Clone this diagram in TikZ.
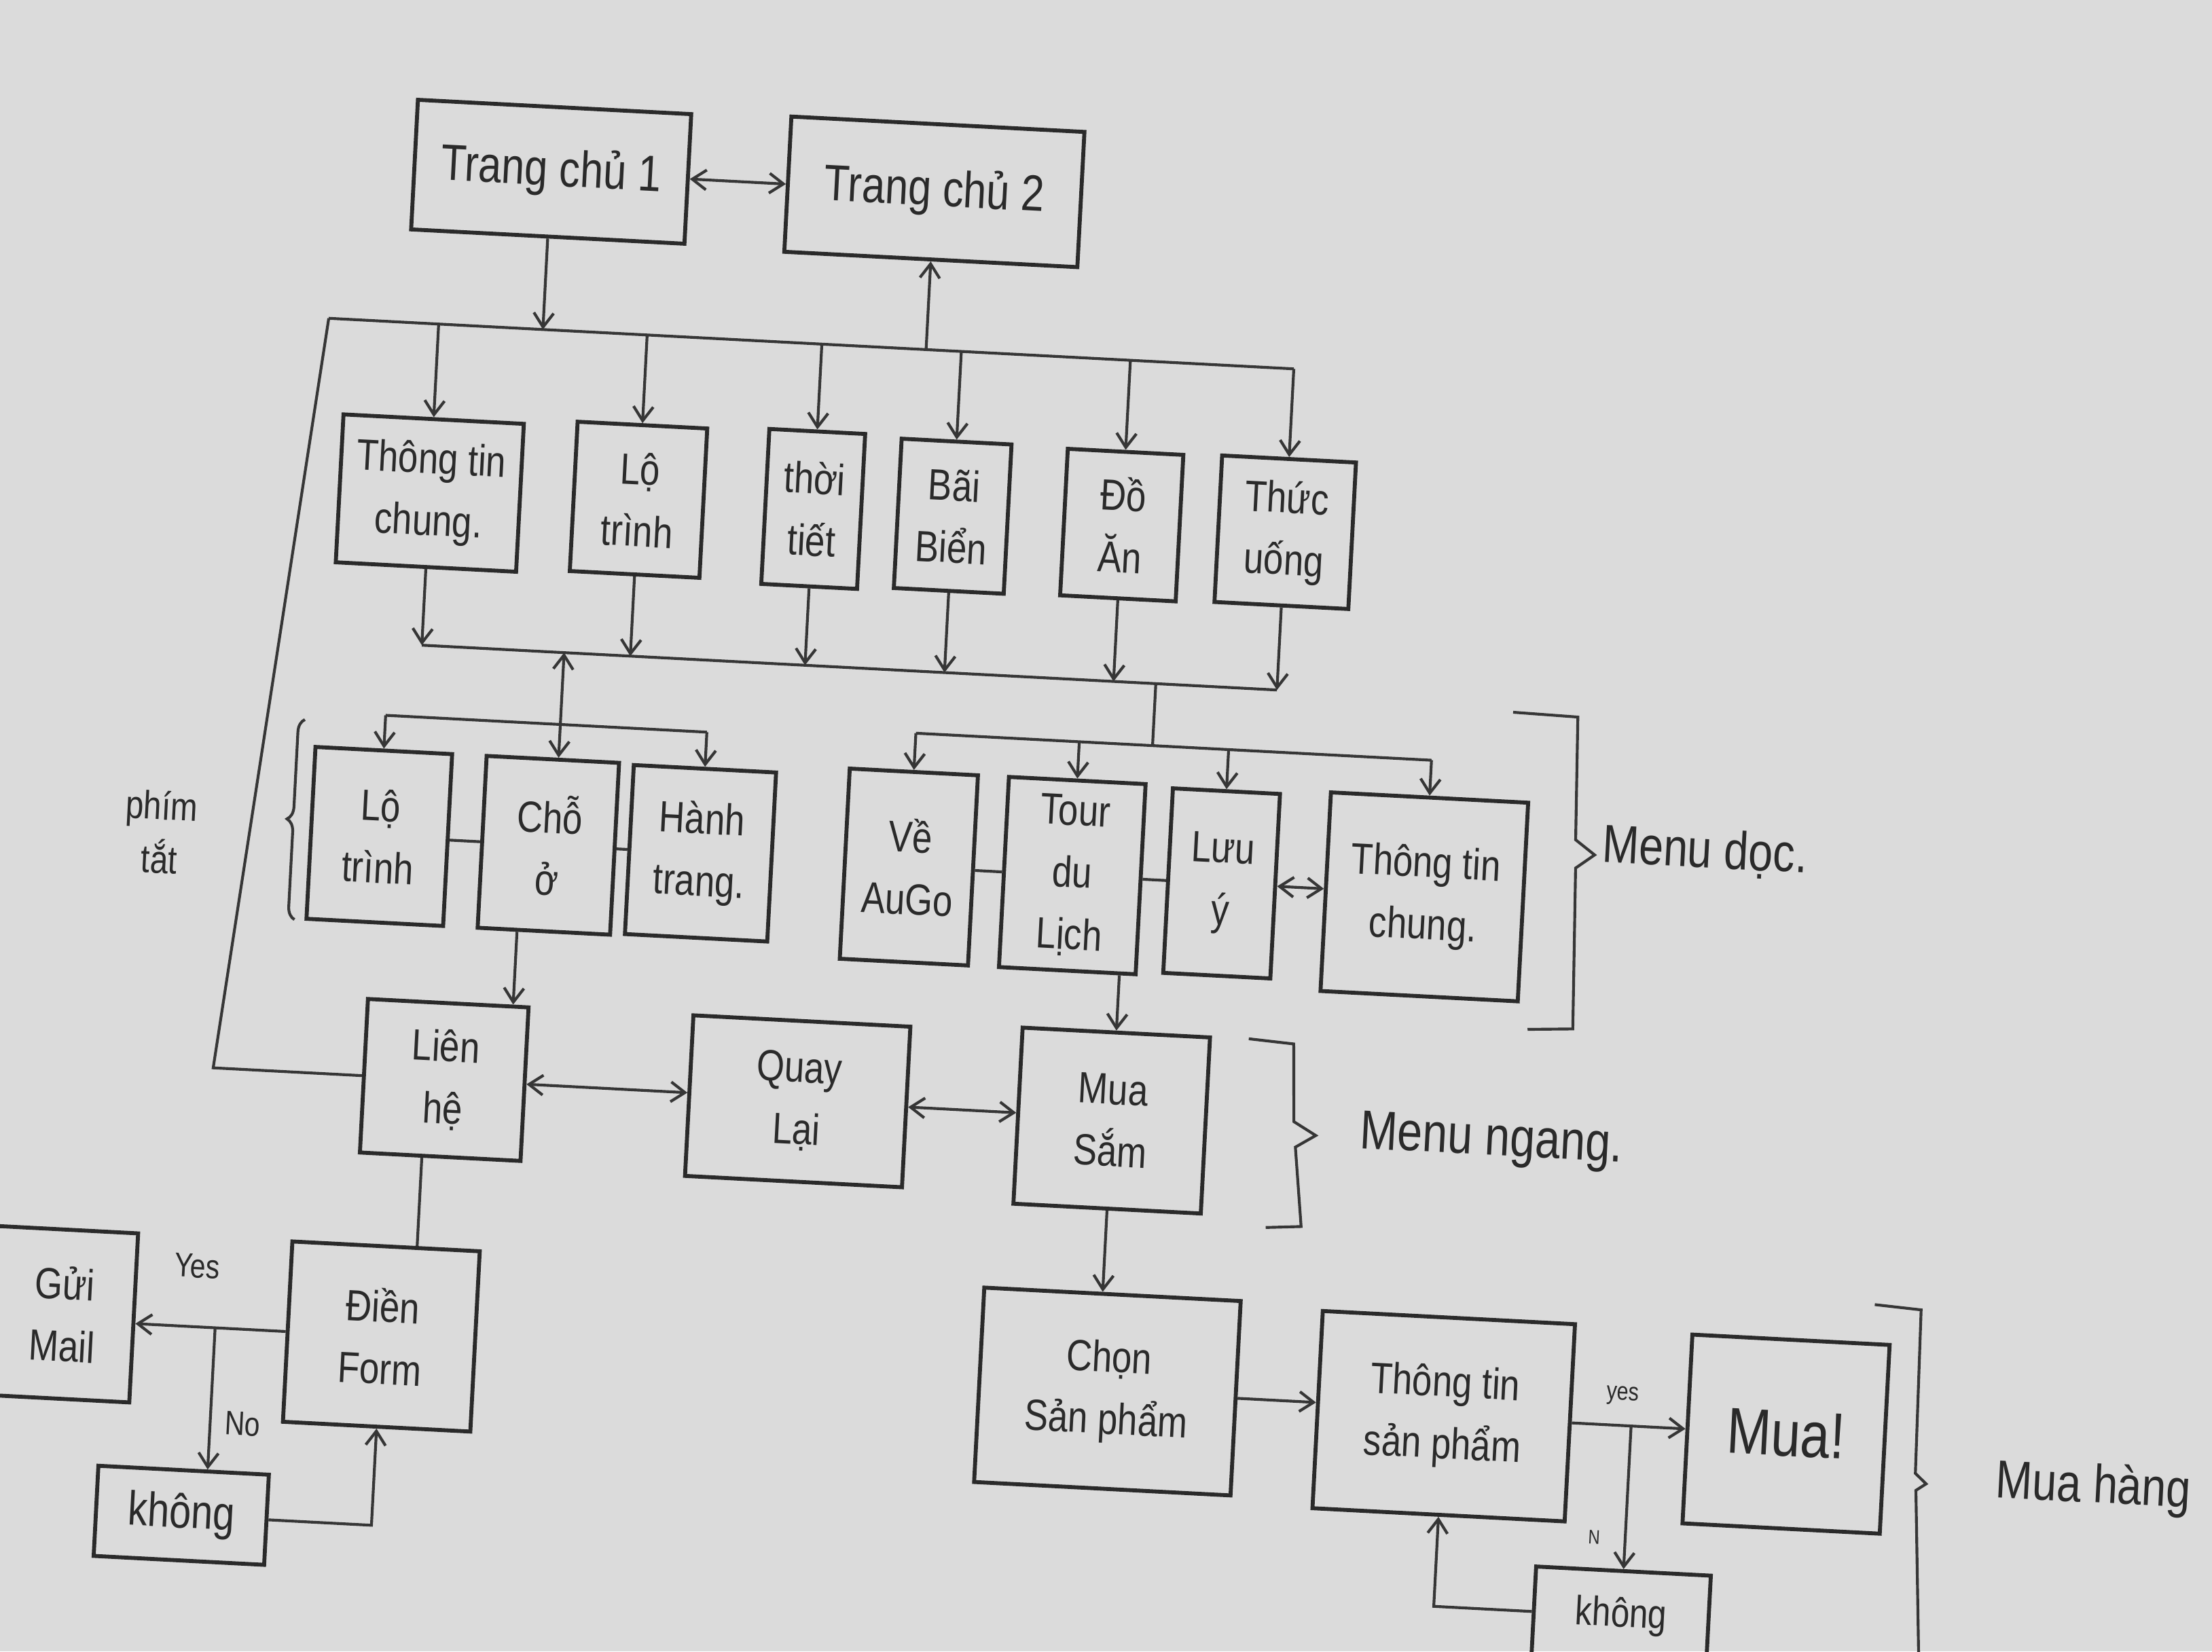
\documentclass[tikz,border=0pt]{standalone}
\usepackage{fontspec}
\setmainfont{Liberation Sans}[FakeStretch=0.82]
\usetikzlibrary{arrows.meta,decorations.pathreplacing,calc}
\definecolor{paper}{HTML}{DBDBDB}
\definecolor{ink}{HTML}{2A2A2A}
\definecolor{pencil}{HTML}{363636}
\begin{document}
\begin{tikzpicture}[x=1pt,y=-1pt,
  box/.style={draw=ink, line width=2.8pt, align=center, inner sep=0pt, text=ink, font=\fontsize{31}{44}\selectfont},
  wh/.style 2 args={minimum width=#1pt, minimum height=#2pt},
  conn/.style={draw=pencil, line width=2pt},
  arr/.style={conn, -{Straight Barb[length=10pt,width=14pt]}},
  darr/.style={conn, {Straight Barb[length=10pt,width=14pt]}-{Straight Barb[length=10pt,width=14pt]}},
  lbl/.style={text=ink, inner sep=0pt},
  brk/.style={draw=pencil, line width=2pt, line join=miter}]
\fill[paper] (0,0) rectangle (1568,1171);
\useasboundingbox (0,0) rectangle (1568,1171);
\begin{scope}[rotate around={-3:(784,585)}, transform shape]
% row 1
\node[box, wh={194}{92}, font=\fontsize{36}{40}\selectfont] (tc1) at (367,143) {Trang chủ 1};
\node[box, wh={208}{96}, font=\fontsize{36}{40}\selectfont] (tc2) at (639,143) {Trang chủ 2};
% row 2
\node[box, wh={128}{105}] (ttc) at (293,375) {Thông tin\\chung.};
\node[box, wh={92}{106}] (lt) at (441,372) {Lộ\\trình};
\node[box, wh={68}{110}] (tt) at (565,372) {thời\\tiết};
\node[box, wh={78}{106}] (bb) at (664,372) {Bãi\\Biển};
\node[box, wh={82}{104}] (da) at (784,372) {Đồ\\Ăn};
\node[box, wh={95}{104}] (tu) at (900,371) {Thức\\uống};
% row 3 left
\node[box, wh={97}{122}] (lt2) at (270,620) {Lộ\\trình};
\node[box, wh={94}{122}] (co) at (390,620) {Chỗ\\ở};
\node[box, wh={101}{120}] (ht) at (498,620) {Hành\\trang.};
% row 3 right
\node[box, wh={91}{135}] (va) at (646,622) {Về\\AuGo};
\node[box, wh={97}{135}] (tdl) at (762,622) {Tour\\du\\Lịch};
\node[box, wh={76}{131}] (ly) at (868,622) {Lưu\\ý};
\node[box, wh={140}{141}] (ttc2) at (1012,624) {Thông tin\\chung.};
% row 4
\node[box, wh={114}{109}] (lh) at (325,790) {Liên\\hệ};
\node[box, wh={154}{114}] (ql) at (576,792) {Quay\\Lại};
\node[box, wh={133}{125}] (ms) at (799,794) {Mua\\Sắm};
% row 5
\node[box, wh={100}{120}] (gm) at (64,970) {Gửi\\Mail};
\node[box, wh={133}{128}] (df) at (290,974) {Điền\\Form};
\node[box, wh={121}{64}, font=\fontsize{34}{40}\selectfont] (kh1) at (155,1108) {không};
% row 6
\node[box, wh={182}{138}] (csp) at (806,986) {Chọn\\Sản phẩm};
\node[box, wh={179}{140}] (ttsp) at (1045,991) {Thông tin\\sản phẩm};
\node[box, wh={140}{134}, font=\fontsize{46}{50}\selectfont] (mua) at (1288,991) {Mua!};
\node[box, wh={124}{64}, font=\fontsize{29}{34}\selectfont] (kh2) at (1178,1126) {không};
% helper coordinates
\coordinate (busL) at (215,255);
\coordinate (b2) at (290,483);
\coordinate (j1) at (394,483);
\coordinate (bar1) at (394,534);
\coordinate (j2) at (814,483);
\coordinate (bar2) at (814,527);
\coordinate (lcorner) at (161,790);
\coordinate (colh) at (371,700);
\coordinate (lhdf) at (312,900);
\coordinate (nob) at (172,974);
% connectors
\draw[darr] (tc1.east) -- (tc1.east -| tc2.west);
\draw[arr] (tc1.south) -- (tc1.south |- busL);
\draw[arr] (tc2.south |- busL) -- (tc2.south);
\draw[conn] (busL) -- (tu.north |- busL);
\foreach \n in {ttc,lt,tt,bb,da,tu} {\draw[arr] (\n.north |- busL) -- (\n.north);}
\draw[conn] (ttc.south |- b2) -- (tu.south |- b2);
\foreach \n in {ttc,lt,tt,bb,da,tu} {\draw[arr] (\n.south) -- (\n.south |- b2);}
\draw[darr] (j1) -- (j1 |- co.north);
\draw[conn] (lt2.north |- bar1) -- (ht.north |- bar1);
\draw[arr] (lt2.north |- bar1) -- (lt2.north);
\draw[arr] (ht.north |- bar1) -- (ht.north);
\draw[conn] (lt2.east) -- (lt2.east -| co.west);
\draw[conn] (co.east) -- (co.east -| ht.west);
\draw[conn] (j2) -- (bar2);
\draw[conn] (va.north |- bar2) -- (ttc2.north |- bar2);
\foreach \n in {va,tdl,ly,ttc2} {\draw[arr] (\n.north |- bar2) -- (\n.north);}
\draw[conn] (va.east) -- (va.east -| tdl.west);
\draw[conn] (tdl.east) -- (tdl.east -| ly.west);
\draw[darr] (ly.east) -- (ly.east -| ttc2.west);
\draw[arr] (co.south -| colh) -- (lh.north -| colh);
\draw[conn] (busL) -- (lcorner) -- (lh.west);
\draw[darr] (lh.east) -- (lh.east -| ql.west);
\draw[darr] (ql.east) -- (ql.east -| ms.west);
\draw[arr] (tdl.south -| ms.north) -- (ms.north);
\draw[conn] (lh.south -| lhdf) -- (df.north -| lhdf);
\draw[arr] (df.west) -- (df.west -| gm.east);
\draw[arr] (nob) -- (nob |- kh1.north);
\draw[arr] (kh1.east) -- (kh1.east -| df.south) -- (df.south);
\draw[arr] (ms.south) -- (ms.south |- csp.north);
\draw[arr] (csp.east) -- (csp.east -| ttsp.west);
\draw[arr] (ttsp.east) -- (ttsp.east -| mua.west);
\draw[arr] (kh2.north |- ttsp.east) -- (kh2.north);
\draw[arr] (kh2.west) -- (kh2.west -| ttsp.south) -- (ttsp.south);
% labels
\node[lbl, font=\fontsize{24}{28}\selectfont] (lyes) at (157,931) {Yes};
\node[lbl, font=\fontsize{24}{28}\selectfont] (lno) at (195,1041) {No};
\node[lbl, font=\fontsize{18}{20}\selectfont] (lyes2) at (1171,970) {yes};
\node[lbl, font=\fontsize{14}{16}\selectfont] (ln) at (1156,1071) {N};
\node[lbl, font=\fontsize{28}{38}\selectfont, align=center] (phim) at (115,625) {phím\\tắt};
\node[lbl, font=\fontsize{38}{40}\selectfont, anchor=west] (mdoc) at (1136,582) {Menu dọc.};
\node[lbl, font=\fontsize{39}{40}\selectfont, anchor=west] (mngang) at (975,795) {Menu ngang.};
\node[lbl, font=\fontsize{38}{42}\selectfont, anchor=west] (muahang) at (1438,1018) {Mua hàng};
% brackets
\draw[brk, decorate, decoration={brace, amplitude=9pt}] (213,682) -- (213,540);
\draw[brk] (1068,490) -- (1114,491) -- (1117,578) -- (1131,588) -- (1118,598) -- (1122,712) -- (1090,714);
\draw[brk] (893,731) -- (925,733) -- (928,788) -- (944,797) -- (930,806) -- (937,862) -- (912,864);
\draw[brk] (1346,896) -- (1379,898) -- (1381,1014) -- (1389,1021) -- (1382,1026) -- (1394,1200);
\end{scope}
\end{tikzpicture}
\end{document}
